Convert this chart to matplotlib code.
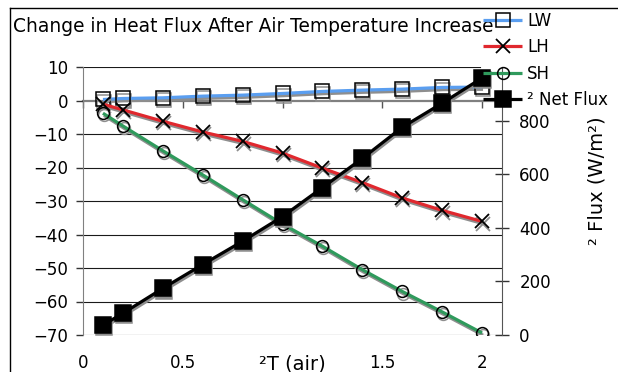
import matplotlib
matplotlib.use("Agg")
import matplotlib.pyplot as plt
from matplotlib import transforms
from matplotlib.lines import Line2D

# temperature increase (x) and the flux changes for each term
dT_air = [0.1, 0.2, 0.4, 0.6, 0.8, 1.0, 1.2, 1.4, 1.6, 1.8, 2.0]
lw_change = [0.3, 0.6, 0.8, 1.3, 1.6, 2.1, 2.7, 3.1, 3.4, 3.9, 4.0]
lh_change = [-1.1, -2.8, -6.2, -9.4, -12.2, -15.7, -20.2, -24.5, -29.1, -32.8, -36.1]
sh_change = [-3.8, -7.6, -15.0, -22.2, -29.6, -36.9, -43.5, -50.5, -57.0, -63.1, -69.4]
net_change = [37, 81, 174, 263, 350, 442, 550, 659, 775, 865, 959]

left_ticks = [10, 0, -10, -20, -30, -40, -50, -60, -70]
right_ticks = [0, 200, 400, 600, 800]
x_ticks = [0, 0.5, 1, 1.5, 2]
x_ticklabels = ["0", "0.5", "", "1.5", "2"]

W, H = 618, 372
plt.rcParams["font.family"] = "DejaVu Sans"
plt.rcParams["font.size"] = 12

fig = plt.figure(figsize=(W / 100, H / 100), dpi=100)
fig.patch.set_facecolor("white")

# outer chart border: only the top and left edges fall inside the image
bx, by = 9.5 / W, 1 - 7.5 / H
fig.add_artist(Line2D([bx, 1], [by, by], transform=fig.transFigure, color="black", lw=1.0))
fig.add_artist(Line2D([bx, bx], [0, by], transform=fig.transFigure, color="black", lw=1.0))

left, right, top, bottom = 83, 502, 67, 335
ax = fig.add_axes([left / W, 1 - bottom / H, (right - left) / W, (bottom - top) / H])
ax.set_xlim(0, 2.1)
ax.set_ylim(-70, 10)
ax.patch.set_alpha(0)

for s in ["top", "right", "bottom"]:
    ax.spines[s].set_visible(False)
ax.spines["left"].set_color("#808080")

for v in left_ticks:
    if v == 0:
        continue
    xmax = 0.947 if v == 10 else 1.0
    ax.axhline(v, xmax=xmax, color="#1a1a1a", lw=0.8, zorder=0.5)

ax.set_yticks(left_ticks)
ax.tick_params(axis="y", direction="out", length=5, width=1, color="#333333", pad=5.5)
ax.set_xticks(x_ticks, x_ticklabels)
ax.tick_params(axis="x", length=0, pad=13.5)
ax.set_xlabel("²T (air)", fontsize=14)
ax.xaxis.set_label_coords(0.5, -0.072)

# horizontal axis line crossing at zero, with its tick marks
zero = ax.secondary_xaxis("bottom")
zero.set_location(70 / 80)
zero.set_zorder(0.6)
zero.set_xticks(x_ticks, [""] * len(x_ticks))
zero.tick_params(axis="x", direction="out", length=5, width=1, color="#555555")
zero.spines["bottom"].set_color("#808080")
zero.spines["bottom"].set_linewidth(1.6)

ax2 = ax.twinx()
ax2.set_ylim(0, 1000)
ax2.set_yticks(right_ticks)
for s in ["top", "left", "bottom"]:
    ax2.spines[s].set_visible(False)
ax2.spines["right"].set_color("#555555")
ax2.tick_params(axis="y", direction="inout", length=10, width=1, color="#333333", pad=7.5)
ax2.set_ylabel("² Flux (W/m²)", fontsize=14)
ax2.yaxis.set_label_coords(1.205, 0.575)

shadow_color = "#8e8e8e"


def draw_series(axis, y, color, marker, ms, mfc, lw=2.3, mew=1.1):
    shadow = transforms.offset_copy(axis.transData, fig=fig, x=1, y=-2.2, units="dots")
    axis.plot(dT_air, y, color=shadow_color, lw=lw, marker=marker, ms=ms,
              mfc=shadow_color if mfc != "none" else "none", mec=shadow_color,
              mew=mew, transform=shadow, solid_capstyle="butt")
    return axis.plot(dT_air, y, color=color, lw=lw, marker=marker, ms=ms,
                     mfc=mfc, mec="black", mew=mew, solid_capstyle="butt")[0]


h_lw = draw_series(ax, lw_change, "#5a9ef0", "s", 9.5, "none")
h_lh = draw_series(ax, lh_change, "#e0282e", "x", 10, "none", mew=1.3)
h_sh = draw_series(ax, sh_change, "#2f9a5c", "o", 8.5, "none")
h_net = draw_series(ax2, net_change, "black", "s", 11.5, "black")

fig.text(13 / W, 1 - 26 / H, "Change in Heat Flux After Air Temperature Increase",
         fontsize=13.4, va="center", ha="left")

fig.legend([h_lw, h_lh, h_sh, h_net], ["LW", "LH", "SH", "² Net Flux"],
           loc="upper left", bbox_to_anchor=(483 / W, 1 - 12 / H),
           frameon=False, borderpad=0, borderaxespad=0, handlelength=2.35,
           handletextpad=0.3, labelspacing=0.5, fontsize=12)

fig.savefig("out.png", dpi=100)
